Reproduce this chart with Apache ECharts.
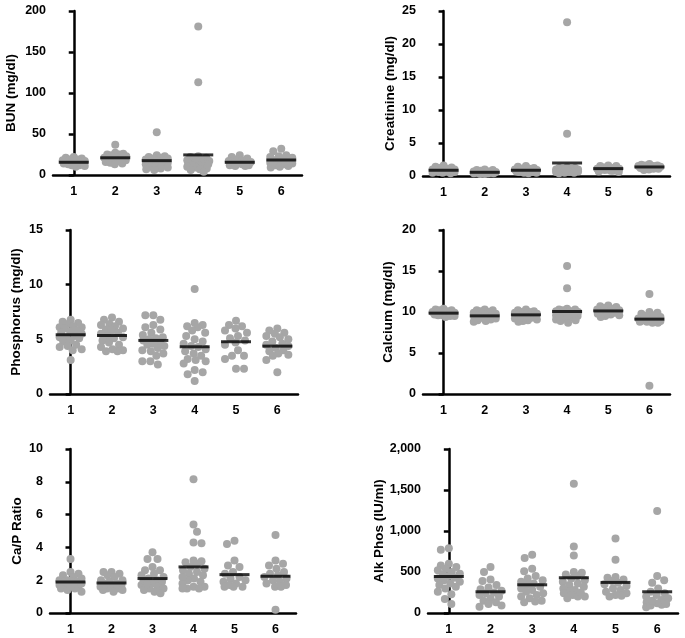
<!DOCTYPE html>
<html>
<head>
<meta charset="utf-8">
<script src="https://cdn.jsdelivr.net/npm/echarts@6/dist/echarts.min.js"></script>
<style>html,body{margin:0;padding:0;background:#fff}#c{width:685px;height:638px}</style>
</head>
<body>
<div id="c"></div>
<script>
const categories = ['1', '2', '3', '4', '5', '6'];

const bunTicks = [0, 50, 100, 150, 200];
const bunValues = [
  [22, 21, 20, 19, 18, 17, 16, 16, 15, 15, 14, 14, 13, 12, 11, 10, 12, 17, 19, 14],
  [37, 27, 26, 25, 25, 24, 23, 22, 21, 20, 20, 19, 18, 17, 16, 15, 14, 13],
  [52, 24, 23, 22, 21, 20, 19, 18, 17, 16, 15, 15, 14, 13, 12, 11, 10, 9, 8, 7, 6, 20],
  [181, 113, 23, 22, 21, 20, 19, 18, 17, 16, 16, 15, 15, 14, 14, 13, 12, 12, 11, 10, 9, 8, 7, 6, 4],
  [24, 22, 20, 19, 18, 17, 16, 15, 15, 14, 13, 12, 12, 11, 11],
  [32, 29, 24, 23, 22, 21, 20, 18, 17, 16, 15, 14, 13, 12, 11, 10, 9]
];
const bunMeans = [15.5, 21, 17.5, 24.5, 15.5, 18.3];

const creatTicks = [0, 5, 10, 15, 20, 25];
const creatValues = [
  [1.6, 1.4, 1.3, 1.2, 1.1, 1.0, 1.0, 0.9, 0.9, 0.8, 0.8, 0.7, 0.7, 0.6, 0.6, 0.5, 0.5, 0.4, 0.8, 0.9],
  [1.0, 0.9, 0.9, 0.8, 0.7, 0.7, 0.6, 0.6, 0.5, 0.5, 0.5, 0.4, 0.4, 0.4, 0.3, 0.3, 0.6, 0.5],
  [1.5, 1.4, 1.2, 1.1, 1.0, 1.0, 0.9, 0.9, 0.8, 0.8, 0.7, 0.7, 0.6, 0.6, 0.5, 0.5, 0.4, 0.9, 0.8, 0.7, 0.6, 1.1],
  [23.3, 6.4, 1.3, 1.2, 1.2, 1.1, 1.1, 1.0, 1.0, 0.9, 0.9, 0.9, 0.8, 0.8, 0.8, 0.7, 0.7, 0.7, 0.6, 0.6, 0.6, 0.5, 0.5, 0.4, 1.0],
  [1.6, 1.5, 1.5, 1.3, 1.2, 1.1, 1.1, 1.0, 1.0, 0.9, 0.9, 0.8, 0.8, 0.7, 0.6],
  [1.8, 1.7, 1.6, 1.6, 1.5, 1.5, 1.4, 1.4, 1.3, 1.3, 1.3, 1.2, 1.2, 1.1, 1.1, 1.0, 0.9]
];
const creatMeans = [0.87, 0.56, 0.87, 1.97, 1.12, 1.37];

const phosTicks = [0, 5, 10, 15];
const phosValues = [
  [6.8, 6.6, 6.5, 6.4, 6.2, 6.1, 6.0, 6.1, 5.8, 5.7, 5.6, 5.5, 5.3, 5.2, 5.2, 5.1, 4.9, 4.8, 4.5, 4.4, 4.3, 4.1, 4.0, 3.1],
  [7.0, 6.8, 6.6, 6.4, 6.3, 6.2, 6.0, 5.9, 5.8, 5.6, 5.5, 5.3, 5.2, 5.1, 4.9, 4.7, 4.5, 4.3, 4.0, 3.9, 3.9, 4.1],
  [7.2, 7.2, 6.8, 6.3, 6.1, 5.9, 5.6, 5.4, 5.2, 5.0, 4.9, 4.7, 4.5, 4.4, 4.2, 4.0, 3.9, 3.7, 3.5, 3.0, 3.0, 2.7, 5.1, 4.6],
  [9.6, 6.5, 6.3, 6.2, 6.1, 5.8, 5.6, 5.3, 5.0, 4.8, 4.6, 4.4, 4.3, 4.1, 3.9, 3.7, 3.5, 3.2, 3.1, 3.0, 2.8, 2.2, 2.0, 1.8, 1.2],
  [6.7, 6.3, 6.2, 6.0, 5.8, 5.6, 5.3, 5.1, 4.9, 4.7, 4.5, 4.0, 3.5, 3.5, 3.2, 2.3, 2.3],
  [6.0, 5.8, 5.6, 5.5, 5.3, 5.2, 5.0, 4.8, 4.6, 4.5, 4.4, 4.2, 4.0, 3.9, 3.7, 3.6, 3.5, 3.1, 2.0]
];
const phosMeans = [5.42, 5.35, 4.9, 4.32, 4.78, 4.38];

const calcTicks = [0, 5, 10, 15, 20];
const calcValues = [
  [10.4, 10.3, 10.2, 10.1, 10.0, 9.9, 9.9, 9.8, 9.8, 9.7, 9.7, 9.6, 9.6, 9.5, 9.5, 9.4, 10.2, 10.0, 9.9, 9.8],
  [10.3, 10.2, 10.1, 10.0, 9.9, 9.8, 9.7, 9.6, 9.5, 9.4, 9.3, 9.2, 9.1, 9.0, 8.9, 8.8, 10.2, 9.6],
  [10.3, 10.2, 10.1, 10.0, 10.0, 9.9, 9.8, 9.8, 9.7, 9.6, 9.6, 9.5, 9.4, 9.4, 9.3, 9.2, 9.1, 9.0, 8.9, 8.8, 9.8, 9.7],
  [15.6, 12.9, 10.4, 10.3, 10.3, 10.2, 10.1, 10.0, 9.9, 9.8, 9.7, 9.6, 9.6, 9.5, 9.4, 9.3, 9.2, 9.1, 9.0, 8.9, 8.7, 9.8, 9.5, 10.1, 9.4],
  [10.8, 10.7, 10.6, 10.5, 10.4, 10.3, 10.2, 10.1, 10.0, 9.9, 9.8, 9.7, 9.6, 9.5, 9.4],
  [12.2, 10.0, 9.9, 9.8, 9.6, 9.4, 9.2, 9.1, 9.0, 9.0, 8.9, 8.8, 8.8, 8.7, 8.7, 9.5, 1.0]
];
const calcMeans = [9.86, 9.53, 9.65, 10.06, 10.13, 9.13];

const ratioTicks = [0, 2, 4, 6, 8, 10];
const ratioValues = [
  [3.3, 2.5, 2.4, 2.3, 2.2, 2.1, 2.0, 2.0, 1.9, 1.9, 1.8, 1.8, 1.7, 1.7, 1.6, 1.6, 1.5, 1.5, 1.4, 1.3, 1.9, 1.6],
  [2.5, 2.5, 2.4, 2.3, 2.2, 2.0, 2.0, 1.9, 1.8, 1.7, 1.6, 1.6, 1.5, 1.5, 1.4, 1.4, 1.3, 1.8],
  [3.7, 3.3, 3.3, 2.8, 2.6, 2.6, 2.4, 2.3, 2.2, 2.1, 2.0, 1.9, 1.8, 1.7, 1.6, 1.5, 1.5, 1.4, 1.3, 1.2, 2.0, 1.8],
  [8.15, 5.4, 4.95, 4.3, 4.25, 3.2, 3.15, 3.1, 3.0, 2.8, 2.6, 2.5, 2.4, 2.3, 2.1, 2.0, 1.9, 1.8, 1.6, 1.6, 1.5, 1.5, 1.5, 2.2, 2.7],
  [4.4, 4.2, 3.2, 2.9, 2.8, 2.5, 2.4, 2.2, 2.1, 2.0, 1.9, 1.8, 1.7, 1.6, 1.6, 1.6],
  [4.75, 3.2, 3.0, 2.9, 2.7, 2.5, 2.4, 2.3, 2.2, 2.1, 2.0, 1.9, 1.8, 1.7, 1.6, 1.6, 0.2]
];
const ratioMeans = [1.89, 1.83, 2.1, 2.81, 2.34, 2.24];

const alkTicks = [0, 500, 1000, 1500, 2000];
const alkValues = [
  [790, 770, 600, 580, 560, 540, 520, 500, 480, 470, 450, 430, 420, 400, 380, 360, 340, 320, 300, 260, 230, 170, 110],
  [560, 500, 410, 390, 340, 310, 290, 270, 250, 240, 220, 200, 180, 150, 130, 110, 90, 75],
  [710, 670, 540, 510, 450, 420, 400, 380, 360, 340, 320, 300, 280, 260, 240, 220, 200, 180, 150, 140, 130],
  [1575, 810, 700, 500, 490, 470, 450, 420, 400, 380, 360, 340, 320, 300, 280, 260, 240, 220, 200, 180, 200, 250],
  [910, 650, 440, 430, 410, 390, 370, 350, 330, 300, 280, 260, 240, 220, 210, 200],
  [1245, 450, 400, 370, 300, 260, 240, 220, 200, 180, 160, 130, 110, 100, 70, 90, 120, 150]
];
const alkMeans = [445, 259, 344, 430, 373, 259];

const yTitles = ['BUN (mg/dl)', 'Creatinine (mg/dl)', 'Phosphorus (mg/dl)', 'Calcium (mg/dl)', 'Ca/P Ratio', 'Alk Phos (IU/ml)'];

// layout (styles, not data)
const panels = [
  { values: bunValues, means: bunMeans, ticks: bunTicks, grid: { left: 53, top: 11, width: 249, height: 164 }, nameGap: 35 },
  { values: creatValues, means: creatMeans, ticks: creatTicks, grid: { left: 423, top: 11, width: 247, height: 165 }, nameGap: 26 },
  { values: phosValues, means: phosMeans, ticks: phosTicks, grid: { left: 50, top: 230, width: 248, height: 164 }, nameGap: 27 },
  { values: calcValues, means: calcMeans, ticks: calcTicks, grid: { left: 423, top: 230, width: 247, height: 164 }, nameGap: 28 },
  { values: ratioValues, means: ratioMeans, ticks: ratioTicks, grid: { left: 50, top: 449, width: 246, height: 164 }, nameGap: 26 },
  { values: alkValues, means: alkMeans, ticks: alkTicks, grid: { left: 428, top: 449, width: 250, height: 164 }, nameGap: 40 }
];

const DOT = 8;
const DOT_COLOR = '#a6a6a6';
const HALF_W = 11;

// deterministic beeswarm layout (pixel offsets)
function swarm(values, pxPerUnit) {
  const order = values.map((v, i) => i).sort((a, b) => values[b] - values[a]);
  const placed = [];
  const off = new Array(values.length);
  order.forEach((i, k) => {
    const y = values[i] * pxPerUnit;
    let found = null, best = 0, bestScore = -1;
    const sign = k % 2 === 0 ? 1 : -1;
    for (let s = 0; s <= HALF_W * 2; s++) {
      const cands = s === 0 ? [0] : [sign * s * 0.5, -sign * s * 0.5];
      for (const x of cands) {
        let md = Infinity;
        for (const p of placed) {
          const d = Math.hypot(p.x - x, p.y - y);
          if (d < md) md = d;
        }
        if (md >= DOT) { found = x; break; }
        if (md > bestScore + 0.01) { bestScore = md; best = x; }
      }
      if (found !== null) break;
    }
    const x = found !== null ? found : best;
    placed.push({ x, y });
    off[i] = x;
  });
  return off;
}

const fmt = v => String(v).replace(/\B(?=(\d{3})+(?!\d))/g, ',');
const FONT = 'Liberation Sans, Arial, Helvetica, sans-serif';
const labelStyle = { color: '#000', fontFamily: FONT, fontWeight: 'bold', fontSize: 12.5 };

const option = { animation: false, grid: [], xAxis: [], yAxis: [], series: [] };

panels.forEach((p, i) => {
  const ymax = p.ticks[p.ticks.length - 1];
  const interval = p.ticks[1] - p.ticks[0];
  option.grid.push(Object.assign({ outerBoundsMode: 'none', containLabel: false }, p.grid));
  option.xAxis.push({
    type: 'category', gridIndex: i, data: categories, boundaryGap: true,
    axisLine: { lineStyle: { color: '#000', width: 2.5 } },
    axisTick: { alignWithLabel: true, length: 5, lineStyle: { color: '#000', width: 2.5 } },
    axisLabel: Object.assign({ margin: 10 }, labelStyle),
    splitLine: { show: false }
  });
  option.xAxis.push({ type: 'value', gridIndex: i, min: -0.5, max: 5.5, show: false, splitLine: { show: false } });
  option.yAxis.push({
    type: 'value', gridIndex: i, min: 0, max: ymax, interval: interval,
    name: yTitles[i], nameLocation: 'middle', nameGap: p.nameGap,
    nameTextStyle: { color: '#000', fontFamily: FONT, fontWeight: 'bold', fontSize: 13.5 },
    axisLine: { show: true, lineStyle: { color: '#000', width: 2.5 } },
    axisTick: { show: true, length: 5, lineStyle: { color: '#000', width: 2.5 } },
    axisLabel: Object.assign({ margin: 7, formatter: fmt }, labelStyle),
    splitLine: { show: false }
  });
  const pxPerUnit = p.grid.height / ymax;
  const band = p.grid.width / categories.length;
  const pts = [];
  p.values.forEach((vals, g) => {
    const off = swarm(vals, pxPerUnit);
    vals.forEach((v, k) => pts.push([g + off[k] / band, v]));
  });
  option.series.push({
    type: 'scatter', xAxisIndex: 2 * i + 1, yAxisIndex: i, data: pts,
    symbol: 'circle', symbolSize: DOT, itemStyle: { color: DOT_COLOR, opacity: 1 }, z: 2, silent: true
  });
  option.series.push({
    type: 'scatter', xAxisIndex: 2 * i, yAxisIndex: i,
    data: p.means.map((m, g) => [g, m]),
    symbol: 'rect', symbolSize: [30, 3], itemStyle: { color: '#000' }, z: 3, silent: true
  });
});

const chart = echarts.init(document.getElementById('c'), null, { renderer: 'canvas' });
chart.setOption(option);
</script>
</body>
</html>
